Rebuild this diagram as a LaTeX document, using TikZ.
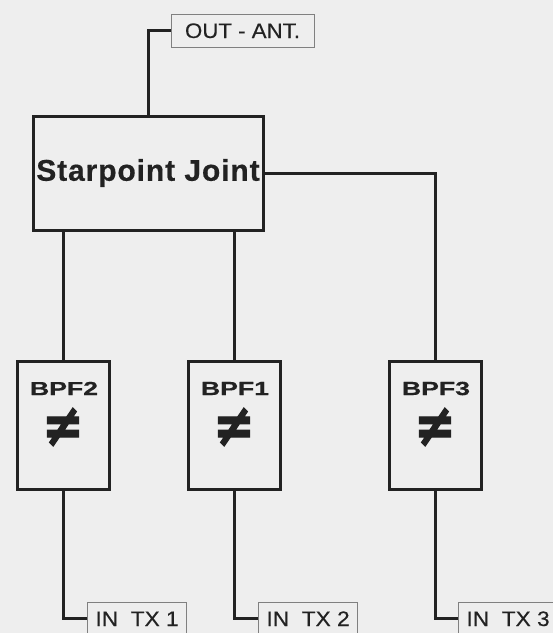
\documentclass[tikz,border=0pt]{standalone}
\usepackage{fontspec}
\setmainfont{Liberation Sans}
\newfontfamily\simbolo{DejaVu Sans}
\definecolor{fundo}{HTML}{EEEEEE}
\definecolor{traco}{HTML}{222222}
\begin{document}
\begin{tikzpicture}[
  x=1pt, y=-1pt,
  every node/.style={inner sep=0pt, text=traco},
  fio/.style={draw=traco, line width=3pt}
]
\tikzset{
  juncao/.style={draw=traco, line width=3pt, minimum width=230pt, minimum height=114pt,
    font=\fontsize{30}{30}\selectfont\bfseries\addfontfeature{LetterSpace=3,FakeBold=0.5}},
  filtro/.style={draw=traco, line width=3pt, minimum width=92pt, minimum height=128pt},
  titulo/.style={font=\fontsize{19}{19}\selectfont\bfseries\addfontfeature{FakeBold=0.5}},
  simb/.style={font=\simbolo\bfseries\fontsize{50}{50}\selectfont\addfontfeature{FakeBold=2}},
  rotulo/.style={draw=black!50, line width=1pt, inner xsep=8pt, minimum height=32pt,
    text height=15pt, text depth=0pt, anchor=north west,
    font=\fontsize{21}{21}\selectfont\addfontfeature{FakeBold=0.3}}
}
\useasboundingbox (0,0) rectangle (553,633);
\fill[fundo] (0,0) rectangle (553,633);

\node[rotulo, anchor=center, minimum width=143pt, minimum height=33pt] (out) at (242.5,30.5)
  {\scalebox{1.06}[1]{OUT - ANT.}};
\node[juncao] (sp) at (148,173) {Starpoint Joint};

\foreach \nome/\x/\txt in {b2/63/BPF2, b1/234/BPF1, b3/435/BPF3} {
  \node[filtro] (\nome) at (\x,425) {};
  \node[titulo] (t\nome) at (\x+1,388.5) {\scalebox{1.4}[1]{\txt}};
  \node[simb] (s\nome) at (\x,427) {\scalebox{1}[1.2]{≠}};
}

\node[rotulo] (tx1) at (87,602) {\scalebox{1.08}[1]{IN\ \ TX 1}};
\node[rotulo] (tx2) at (258,602) {\scalebox{1.08}[1]{IN\ \ TX 2}};
\node[rotulo] (tx3) at (458,602) {\scalebox{1.08}[1]{IN\ \ TX 3}};

\draw[fio] (sp.north) |- (out.west);
\draw[fio] (sp.east) -| (b3.north);
\draw[fio] (b2.north) -- (b2.north |- sp.south);
\draw[fio] (b1.north) -- (b1.north |- sp.south);
\draw[fio] (b2.south) |- (tx1.west);
\draw[fio] (b1.south) |- (tx2.west);
\draw[fio] (b3.south) |- (tx3.west);
\end{tikzpicture}
\end{document}
